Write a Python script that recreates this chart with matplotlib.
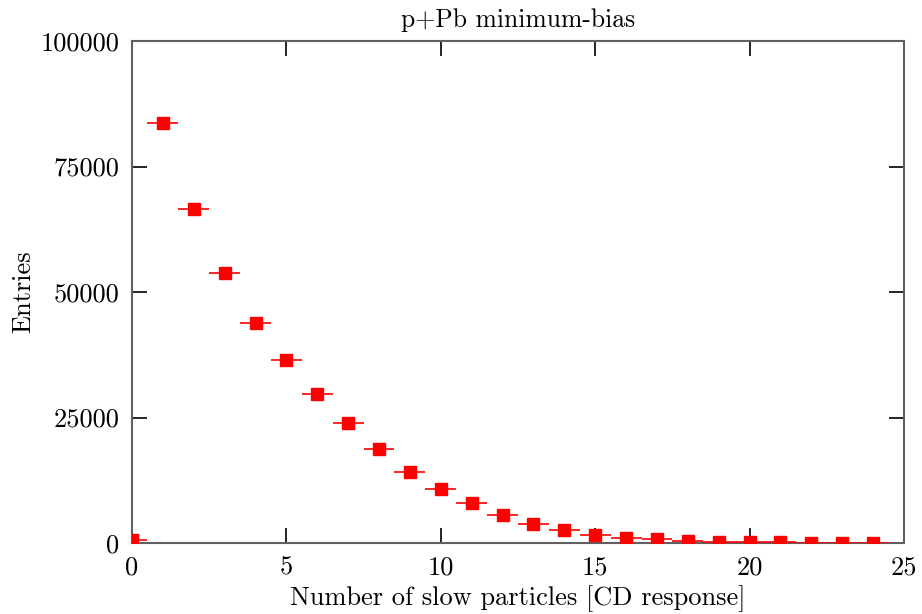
import matplotlib
matplotlib.use("Agg")
import matplotlib.pyplot as plt

plt.rcParams['font.family'] = 'serif'
plt.rcParams['font.serif'] = ['cmr10']
plt.rcParams['mathtext.fontset'] = 'cm'
plt.rcParams['axes.formatter.use_mathtext'] = True

n_slow = list(range(25))
entries = [500, 83600, 66500, 53700, 43900, 36400, 29700, 23900, 18700, 14100,
           10700, 7900, 5500, 3700, 2500, 1550, 1050, 750, 450, 280,
           170, 100, 60, 35, 20]
x_halfwidth = [0.5] * len(n_slow)

title = "p+Pb minimum-bias"
xlabel = "Number of slow particles [CD response]"
ylabel = "Entries"
xticks = [0, 5, 10, 15, 20, 25]
yticks = [0, 25000, 50000, 75000, 100000]

fig = plt.figure(figsize=(9.22, 6.14), dpi=100)
ax = fig.add_axes([132/922, 71/614, (904-132)/922, (543-41)/614])

ax.errorbar(n_slow, entries, xerr=x_halfwidth, fmt='s', color='#ff0000',
            ecolor='#ff0000', elinewidth=1.2, markersize=8.5, capsize=0,
            clip_on=True, zorder=3)

ax.set_xlim(0, 25)
ax.set_ylim(0, 100000)
ax.set_xticks(xticks)
ax.set_yticks(yticks)
ax.set_xticklabels([str(t) for t in xticks])
ax.set_yticklabels([str(t) for t in yticks])
ax.tick_params(direction='in', length=11, width=1.2, top=True, right=True,
               labelsize=19, colors='black', pad=9)
for s in ax.spines.values():
    s.set_color('#606060')
    s.set_linewidth(1.5)

ax.set_xlabel(xlabel, fontsize=19, labelpad=4)
ax.set_ylabel(ylabel, fontsize=19, labelpad=4)
ax.set_title(title, fontsize=18.5, pad=10)

fig.savefig("out.png", dpi=100)
